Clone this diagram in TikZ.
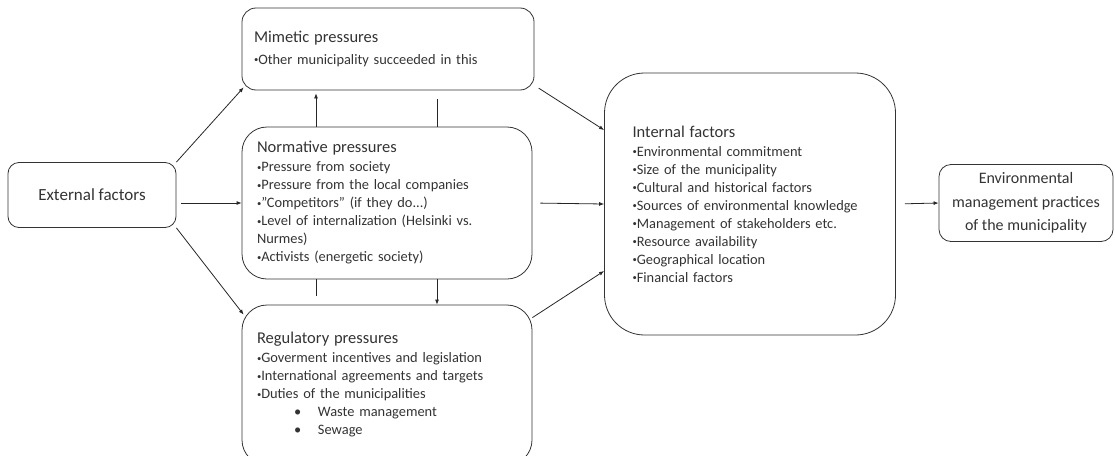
\documentclass[tikz,border=0pt]{standalone}
\usepackage{fontspec}
\usepackage{graphicx}
\setmainfont{Carlito}
\usetikzlibrary{arrows.meta,calc}
\newcommand{\bul}{\raisebox{0.25ex}{\scalebox{0.6}{•}}}
\newcommand{\subbul}{\hspace*{37pt}\makebox[24pt][l]{•}}
\newcommand{\boxhead}[1]{{\fontsize{16.5}{18}\selectfont #1}}
\begin{document}
\begin{tikzpicture}[x=1pt,y=-1pt,
    box/.style={draw=black!80, line width=0.8pt, align=left, inner sep=0pt, text=black!80,
      font=\fontsize{14.4}{18}\selectfont},
    cbox/.style={box, align=center, font=\fontsize{16}{23.5}\selectfont},
    arr/.style={line width=0.8pt, draw=black!85, -{Latex[length=5pt,width=4pt]}},
    lin/.style={line width=0.8pt, draw=black!85}]
        \useasboundingbox (0,0) rectangle (1115,455);

        \node[cbox, rounded corners=11pt, minimum width=168pt, minimum height=65pt, font=\fontsize{17}{20}\selectfont] (ext) at (92,195) {External factors};
        \node[box, rounded corners=14pt, minimum width=292pt, minimum height=82pt, text width=268pt] (mim) at (388,49)
            {\boxhead{Mimetic pressures}\\[4pt]
             \bul Other municipality succeeded in this};
        \node[box, rounded corners=25pt, minimum width=290pt, minimum height=152pt, text width=260pt] (norm) at (387,203)
            {\boxhead{Normative pressures}\\[1pt]
             \bul Pressure from society\\
             \bul Pressure from the local companies\\
             \bul "Competitors" (if they do...)\\
             \bul Level of internalization (Helsinki vs.\\
             Nurmes)\\
             \bul Activists (energetic society)};
        \node[box, rounded corners=25pt, minimum width=290pt, minimum height=160pt, text width=260pt] (reg) at (387,385)
            {\boxhead{Regulatory pressures}\\[1pt]
             \bul Goverment incentives and legislation\\
             \bul International agreements and targets\\
             \bul Duties of the municipalities\\
             \subbul Waste management\\
             \subbul Sewage};
        \node[box, rounded corners=40pt, minimum width=291pt, minimum height=262pt, text width=235pt] (int) at (750,204)
            {\boxhead{Internal factors}\\[1pt]
             \bul Environmental commitment\\
             \bul Size of the municipality\\
             \bul Cultural and historical factors\\
             \bul Sources of environmental knowledge\\
             \bul Management of stakeholders etc.\\
             \bul Resource availability\\
             \bul Geographical location\\
             \bul Financial factors};
        \node[cbox, rounded corners=12pt, minimum width=174pt, minimum height=77pt] (env) at (1026,203)
            {Environmental\\management practices\\of the municipality};

        \draw[arr] (ext.north east) -- ($(mim.south west)+(2,-3)$);
        \draw[arr, shorten <=5pt] (ext.east |- norm.west) -- (norm.west);
        \draw[arr] (ext.south east) -- ($(reg.north west)+(2,10)$);
        \draw[arr] (norm.north -| 316,0) -- ($(mim.south -| 316,0)+(0,3)$);
        \draw[lin] ($(mim.south -| 437,0)+(0,9)$) -- (norm.north -| 437,0);
        \draw[lin] (norm.south -| 316,0) -- ($(norm.south -| 316,0)+(0,17)$);
        \draw[arr] (norm.south -| 437,0) -- (reg.north -| 437,0);
        \draw[arr, shorten <=5pt] ($(mim.south east)+(0,-5)$) -- ($(int.west)+(0,-74)$);
        \draw[arr, shorten <=8pt] (norm.east) -- (int.west);
        \draw[arr] ($(reg.north east)+(0,13)$) -- ($(int.west)+(0,67)$);
        \draw[arr, shorten <=9pt] (int.east) -- (env.west);
\end{tikzpicture}
\end{document}
